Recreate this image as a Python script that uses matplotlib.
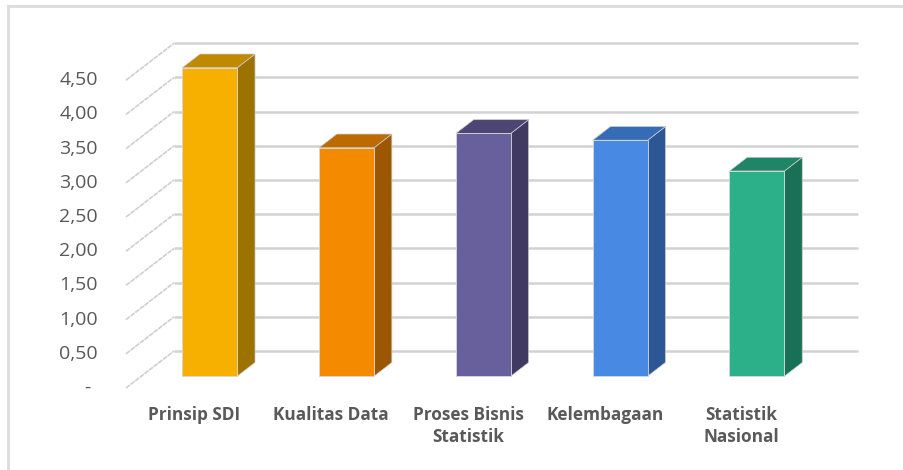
import matplotlib
matplotlib.use("Agg")
import matplotlib.pyplot as plt
from matplotlib.patches import Polygon

# ---- data ----
categories = ["Prinsip SDI", "Kualitas Data", "Proses Bisnis\nStatistik", "Kelembagaan", "Statistik\nNasional"]
values = [4.51, 3.34, 3.55, 3.45, 3.00]
tick_values = [0.0, 0.5, 1.0, 1.5, 2.0, 2.5, 3.0, 3.5, 4.0, 4.5]
tick_labels = ["-", "0,50", "1,00", "1,50", "2,00", "2,50", "3,00", "3,50", "4,00", "4,50"]

front_colors = ["#F7B000", "#F48A00", "#68609C", "#4889E4", "#2BB089"]
top_colors = ["#BF8900", "#BD6A00", "#4D4675", "#366CB6", "#1F8566"]
side_colors = ["#9C7200", "#9C5700", "#403A62", "#2D5794", "#1A7055"]

# ---- oblique projection parameters (in data units) ----
DX = 0.351   # horizontal shift of full depth (category units)
DY = 0.541   # vertical shift of full depth (value units)
D1, D2 = 0.32, 0.69   # bar front / back depth fraction
HW = 0.201   # bar half width

fig = plt.figure(figsize=(9.04, 4.70), dpi=100)
ax = fig.add_axes([0, 0, 1, 1])
ax.set_xlim(-1.421, 5.187)
ax.set_ylim(-1.199, 5.673)
ax.axis("off")

n = len(categories)
grid_c = "#d2d2d2"
for t in tick_values:
    # back wall gridline
    ax.plot([-0.5 + DX, n - 0.5 + DX], [t + DY, t + DY], color=grid_c, lw=1.8,
            solid_capstyle="butt", zorder=1)
    # side wall diagonal
    ax.plot([-0.5, -0.5 + DX], [t, t + DY], color="#cfcfcf", lw=1.2,
            linestyle=(0, (3, 0.5)), zorder=1)

for i, v in enumerate(values):
    xl1, xr1 = i - HW + D1 * DX, i + HW + D1 * DX
    xl2, xr2 = i - HW + D2 * DX, i + HW + D2 * DX
    y1, y2 = D1 * DY, D2 * DY
    side = Polygon([(xr1, y1), (xr2, y2), (xr2, v + y2), (xr1, v + y1)],
                   closed=True, facecolor=side_colors[i], edgecolor="#cccccc", lw=0.5, zorder=3)
    top = Polygon([(xl1, v + y1), (xr1, v + y1), (xr2, v + y2), (xl2, v + y2)],
                  closed=True, facecolor=top_colors[i], edgecolor="#cccccc", lw=0.5, zorder=3)
    front = Polygon([(xl1, y1), (xr1, y1), (xr1, v + y1), (xl1, v + y1)],
                    closed=True, facecolor=front_colors[i], edgecolor="#d8d8d8", lw=0.6, zorder=4)
    for p in (side, top, front):
        ax.add_patch(p)

label_c = "#595959"
for t, lab in zip(tick_values, tick_labels):
    if lab == "-":
        ax.text(-0.78, t, lab, ha="center", va="center", fontsize=14,
                family="Open Sans", color=label_c)
    else:
        ax.text(-0.705, t, lab, ha="right", va="center", fontsize=14,
                family="Open Sans", color=label_c)

for i, c in enumerate(categories):
    ax.text(i, -0.26, c, ha="center", va="top", fontsize=12.4, fontweight="bold",
            family="Open Sans", color=label_c, linespacing=1.3)

# chart area border (top and left visible)
ax.plot([7.5 / 136.8 - 1.421, 7.5 / 136.8 - 1.421], [-1.3, (388 - 6) / 68.4],
        color="#dcdcdc", lw=2, clip_on=False, zorder=0)
ax.plot([7.5 / 136.8 - 1.421, 5.3], [(388 - 6) / 68.4, (388 - 6) / 68.4],
        color="#dcdcdc", lw=2, clip_on=False, zorder=0)

fig.savefig("out.png", dpi=100, facecolor="white")
